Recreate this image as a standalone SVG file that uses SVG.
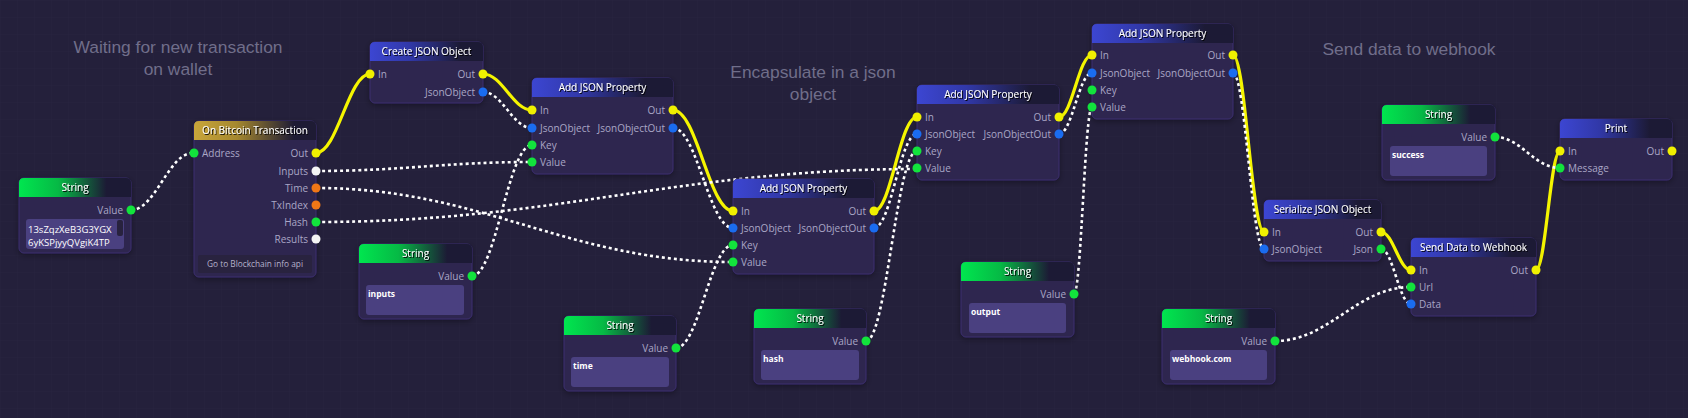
<svg xmlns="http://www.w3.org/2000/svg" width="1688" height="418" viewBox="0 0 1688 418">
<defs>
<pattern id="grid" width="17" height="17" patternUnits="userSpaceOnUse">
<path d="M17 0H0V17" fill="none" stroke="#28243f" stroke-width="1"/>
</pattern>
<linearGradient id="gGreen" x1="0" y1="0" x2="1" y2="0">
<stop offset="0" stop-color="#00e64f"/>
<stop offset="0.35" stop-color="#06b945"/>
<stop offset="0.78" stop-color="#1c1a35"/>
<stop offset="1" stop-color="#1c1a35"/>
</linearGradient>
<linearGradient id="gBlue" x1="0" y1="0" x2="1" y2="0">
<stop offset="0" stop-color="#3c46d2"/>
<stop offset="0.35" stop-color="#3138a8"/>
<stop offset="0.8" stop-color="#1c1a35"/>
<stop offset="1" stop-color="#1c1a35"/>
</linearGradient>
<linearGradient id="gGold" x1="0" y1="0" x2="1" y2="0">
<stop offset="0" stop-color="#c9a63a"/>
<stop offset="0.35" stop-color="#a5882f"/>
<stop offset="0.82" stop-color="#1e1b34"/>
<stop offset="1" stop-color="#1e1b34"/>
</linearGradient>
<filter id="nshadow" x="-20%" y="-20%" width="140%" height="150%">
<feDropShadow dx="0" dy="2" stdDeviation="3" flood-color="#000" flood-opacity="0.35"/>
</filter>
<filter id="tshadow" x="-10%" y="-30%" width="120%" height="160%">
<feDropShadow dx="1" dy="1" stdDeviation="0.4" flood-color="#000" flood-opacity="0.9"/>
</filter>
<style>
.body{fill:#2f2850;stroke:#3a2d6c;stroke-width:1}
.hg{fill:url(#gGreen)}
.hb{fill:url(#gBlue)}
.hy{fill:url(#gGold)}
.title{font-family:"Open Sans","Noto Sans",sans-serif;font-size:10px;fill:#ffffff;text-anchor:middle}
.lbl{font-family:"Open Sans","Noto Sans",sans-serif;font-size:10px;fill:#aaa6c6}
.r{text-anchor:end}
.box{fill:#4a4080}
.val{font-family:"Open Sans","Noto Sans",sans-serif;font-size:8.5px;font-weight:bold;fill:#ffffff}
.addr{font-family:"Open Sans","Noto Sans",sans-serif;font-size:9.5px;fill:#ffffff}
.cmt{font-family:"Liberation Sans",Arial,sans-serif;font-size:17.4px;fill:#706e8a;text-anchor:middle}
.btn{fill:#29233f}
.btnt{font-family:"Open Sans","Noto Sans",sans-serif;font-size:8.3px;fill:#b6b2cc;text-anchor:middle}
.py{fill:#f0f000}
.pg{fill:#12e33c}
.pb{fill:#1a6cf0}
.po{fill:#f07716}
.pw{fill:#f4f4f4}
.exec{fill:none;stroke:#f5f500;stroke-width:3.2;stroke-linecap:round}
.data{fill:none;stroke:#ffffff;stroke-width:2.6;stroke-dasharray:3 3}
</style>
</defs>
<rect width="1688" height="418" fill="#24203b"/>
<rect width="1688" height="418" fill="url(#grid)"/>

<g id="comments">
<text class="cmt" x="178" y="53">Waiting for new transaction</text>
<text class="cmt" x="178" y="75">on wallet</text>
<text class="cmt" x="813" y="78">Encapsulate in a json</text>
<text class="cmt" x="813" y="100">object</text>
<text class="cmt" x="1409" y="55">Send data to webhook</text>
</g>

<g id="connectors">
<path class="exec" d="M316,153 C337.6,153 348.4,74 370,74"/>
<path class="exec" d="M483,74 C502.6,74 512.4,110 532,110"/>
<path class="exec" d="M673,110 C697,110 709,211 733,211"/>
<path class="exec" d="M874,211 C891.2,211 899.8,117 917,117"/>
<path class="exec" d="M1059,117 C1072.2,117 1078.8,55 1092,55"/>
<path class="exec" d="M1233,55 C1245.4,55 1251.6,232 1264,232"/>
<path class="exec" d="M1381,232 C1393,232 1399,270 1411,270"/>
<path class="exec" d="M1536,270 C1545.6,270 1550.4,151 1560,151"/>
<path class="data" d="M131,210 C155.8,210 168.2,153 193,153"/>
<path class="data" d="M483,92 C502.6,92 512.4,128 532,128"/>
<path class="data" d="M316,171 C402.4,171 445.6,162 532,162"/>
<path class="data" d="M472,276 C496,276 508,145 532,145"/>
<path class="data" d="M673,128 C697,128 709,228 733,228"/>
<path class="data" d="M316,188 C482.8,188 566.2,262 733,262"/>
<path class="data" d="M676,348 C698.8,348 710.2,245 733,245"/>
<path class="data" d="M874,228 C891.2,228 899.8,134 917,134"/>
<path class="data" d="M316,222 C556.4,222 676.6,169 917,169"/>
<path class="data" d="M866,341 C886.4,341 896.6,151 917,151"/>
<path class="data" d="M1059,134 C1072.2,134 1078.8,73 1092,73"/>
<path class="data" d="M1074,294 C1081.2,294 1084.8,107 1092,107"/>
<path class="data" d="M1233,73 C1245.4,73 1251.6,249 1264,249"/>
<path class="data" d="M1381,249 C1393,249 1399,304 1411,304"/>
<path class="data" d="M1275,341 C1329.4,341 1356.6,287 1411,287"/>
<path class="data" d="M1495,137 C1521,137 1534,168 1560,168"/>
</g>

<g id="node-string-address">
<rect class="body" x="19" y="178" width="112" height="75" rx="5" filter="url(#nshadow)"/>
<path class="hg" d="M19,197V183Q19,178 24,178H126Q131,178 131,183V197Z"/>
<text class="title" x="75" y="191" filter="url(#tshadow)">String</text>
<text class="lbl r" x="123" y="213.5">Value</text>
<circle class="pg" cx="131" cy="210" r="4.5"/>
<rect class="box" x="26" y="219" width="98" height="30" rx="3"/>
<rect x="117" y="220" width="6" height="16" rx="2" fill="#28223e"/>
<text class="addr" x="28" y="232.5">13sZqzXeB3G3YGX</text>
<text class="addr" x="28" y="246">6yKSPjyyQVgiK4TP</text>
</g>

<g id="node-on-bitcoin-transaction">
<rect class="body" x="194" y="121" width="122" height="156" rx="5" filter="url(#nshadow)"/>
<path class="hy" d="M194,140V126Q194,121 199,121H311Q316,121 316,126V140Z"/>
<text class="title" x="255" y="134" filter="url(#tshadow)">On Bitcoin Transaction</text>
<text class="lbl" x="202" y="156.5">Address</text>
<circle class="pg" cx="194" cy="153" r="4.5"/>
<text class="lbl r" x="308" y="156.5">Out</text>
<text class="lbl r" x="308" y="174.5">Inputs</text>
<text class="lbl r" x="308" y="191.5">Time</text>
<text class="lbl r" x="308" y="208.5">TxIndex</text>
<text class="lbl r" x="308" y="225.5">Hash</text>
<text class="lbl r" x="308" y="242.5">Results</text>
<circle class="py" cx="316" cy="153" r="4.5"/>
<circle class="pw" cx="316" cy="171" r="4.5"/>
<circle class="po" cx="316" cy="188" r="4.5"/>
<circle class="po" cx="316" cy="205" r="4.5"/>
<circle class="pg" cx="316" cy="222" r="4.5"/>
<circle class="pw" cx="316" cy="239" r="4.5"/>
<rect class="btn" x="198" y="255" width="114" height="18" rx="2"/>
<text class="btnt" x="255" y="267">Go to Blockchain info api</text>
</g>

<g id="node-create-json-object">
<rect class="body" x="370" y="42" width="113" height="61" rx="5" filter="url(#nshadow)"/>
<path class="hb" d="M370,61V47Q370,42 375,42H478Q483,42 483,47V61Z"/>
<text class="title" x="426.5" y="55" filter="url(#tshadow)">Create JSON Object</text>
<text class="lbl" x="378" y="77.5">In</text>
<text class="lbl r" x="475" y="77.5">Out</text>
<text class="lbl r" x="475" y="95.5">JsonObject</text>
<circle class="py" cx="370" cy="74" r="4.5"/>
<circle class="py" cx="483" cy="74" r="4.5"/>
<circle class="pb" cx="483" cy="92" r="4.5"/>
</g>

<g id="node-add-json-property-1">
<rect class="body" x="532" y="78" width="141" height="96" rx="5" filter="url(#nshadow)"/>
<path class="hb" d="M532,97V83Q532,78 537,78H668Q673,78 673,83V97Z"/>
<text class="title" x="602.5" y="91" filter="url(#tshadow)">Add JSON Property</text>
<text class="lbl" x="540" y="113.5">In</text>
<text class="lbl" x="540" y="131.5">JsonObject</text>
<text class="lbl" x="540" y="148.5">Key</text>
<text class="lbl" x="540" y="165.5">Value</text>
<text class="lbl r" x="665" y="113.5">Out</text>
<text class="lbl r" x="665" y="131.5">JsonObjectOut</text>
<circle class="py" cx="532" cy="110" r="4.5"/>
<circle class="pb" cx="532" cy="128" r="4.5"/>
<circle class="pg" cx="532" cy="145" r="4.5"/>
<circle class="pg" cx="532" cy="162" r="4.5"/>
<circle class="py" cx="673" cy="110" r="4.5"/>
<circle class="pb" cx="673" cy="128" r="4.5"/>
</g>

<g id="node-add-json-property-2">
<rect class="body" x="733" y="179" width="141" height="95" rx="5" filter="url(#nshadow)"/>
<path class="hb" d="M733,198V184Q733,179 738,179H869Q874,179 874,184V198Z"/>
<text class="title" x="803.5" y="192" filter="url(#tshadow)">Add JSON Property</text>
<text class="lbl" x="741" y="214.5">In</text>
<text class="lbl" x="741" y="231.5">JsonObject</text>
<text class="lbl" x="741" y="248.5">Key</text>
<text class="lbl" x="741" y="265.5">Value</text>
<text class="lbl r" x="866" y="214.5">Out</text>
<text class="lbl r" x="866" y="231.5">JsonObjectOut</text>
<circle class="py" cx="733" cy="211" r="4.5"/>
<circle class="pb" cx="733" cy="228" r="4.5"/>
<circle class="pg" cx="733" cy="245" r="4.5"/>
<circle class="pg" cx="733" cy="262" r="4.5"/>
<circle class="py" cx="874" cy="211" r="4.5"/>
<circle class="pb" cx="874" cy="228" r="4.5"/>
</g>

<g id="node-add-json-property-3">
<rect class="body" x="917" y="85" width="142" height="95" rx="5" filter="url(#nshadow)"/>
<path class="hb" d="M917,104V90Q917,85 922,85H1054Q1059,85 1059,90V104Z"/>
<text class="title" x="988" y="98" filter="url(#tshadow)">Add JSON Property</text>
<text class="lbl" x="925" y="120.5">In</text>
<text class="lbl" x="925" y="137.5">JsonObject</text>
<text class="lbl" x="925" y="154.5">Key</text>
<text class="lbl" x="925" y="171.5">Value</text>
<text class="lbl r" x="1051" y="120.5">Out</text>
<text class="lbl r" x="1051" y="137.5">JsonObjectOut</text>
<circle class="py" cx="917" cy="117" r="4.5"/>
<circle class="pb" cx="917" cy="134" r="4.5"/>
<circle class="pg" cx="917" cy="151" r="4.5"/>
<circle class="pg" cx="917" cy="168" r="4.5"/>
<circle class="py" cx="1059" cy="117" r="4.5"/>
<circle class="pb" cx="1059" cy="134" r="4.5"/>
</g>

<g id="node-add-json-property-4">
<rect class="body" x="1092" y="24" width="141" height="95" rx="5" filter="url(#nshadow)"/>
<path class="hb" d="M1092,43V29Q1092,24 1097,24H1228Q1233,24 1233,29V43Z"/>
<text class="title" x="1162.5" y="37" filter="url(#tshadow)">Add JSON Property</text>
<text class="lbl" x="1100" y="58.5">In</text>
<text class="lbl" x="1100" y="76.5">JsonObject</text>
<text class="lbl" x="1100" y="93.5">Key</text>
<text class="lbl" x="1100" y="110.5">Value</text>
<text class="lbl r" x="1225" y="58.5">Out</text>
<text class="lbl r" x="1225" y="76.5">JsonObjectOut</text>
<circle class="py" cx="1092" cy="55" r="4.5"/>
<circle class="pb" cx="1092" cy="73" r="4.5"/>
<circle class="pg" cx="1092" cy="90" r="4.5"/>
<circle class="pg" cx="1092" cy="107" r="4.5"/>
<circle class="py" cx="1233" cy="55" r="4.5"/>
<circle class="pb" cx="1233" cy="73" r="4.5"/>
</g>

<g id="node-serialize-json-object">
<rect class="body" x="1264" y="200" width="117" height="61" rx="5" filter="url(#nshadow)"/>
<path class="hb" d="M1264,219V205Q1264,200 1269,200H1376Q1381,200 1381,205V219Z"/>
<text class="title" x="1322.5" y="213" filter="url(#tshadow)">Serialize JSON Object</text>
<text class="lbl" x="1272" y="235.5">In</text>
<text class="lbl" x="1272" y="252.5">JsonObject</text>
<text class="lbl r" x="1373" y="235.5">Out</text>
<text class="lbl r" x="1373" y="252.5">Json</text>
<circle class="py" cx="1264" cy="232" r="4.5"/>
<circle class="pb" cx="1264" cy="249" r="4.5"/>
<circle class="py" cx="1381" cy="232" r="4.5"/>
<circle class="pg" cx="1381" cy="249" r="4.5"/>
</g>

<g id="node-string-success">
<rect class="body" x="1382" y="105" width="113" height="75" rx="5" filter="url(#nshadow)"/>
<path class="hg" d="M1382,124V110Q1382,105 1387,105H1490Q1495,105 1495,110V124Z"/>
<text class="title" x="1438.5" y="118" filter="url(#tshadow)">String</text>
<text class="lbl r" x="1487" y="140.5">Value</text>
<circle class="pg" cx="1495" cy="137" r="4.5"/>
<rect class="box" x="1390" y="146" width="97" height="30" rx="3"/>
<text class="val" x="1392" y="158">success</text>
</g>

<g id="node-print">
<rect class="body" x="1560" y="119" width="112" height="61" rx="5" filter="url(#nshadow)"/>
<path class="hb" d="M1560,138V124Q1560,119 1565,119H1667Q1672,119 1672,124V138Z"/>
<text class="title" x="1616" y="132" filter="url(#tshadow)">Print</text>
<text class="lbl" x="1568" y="154.5">In</text>
<text class="lbl" x="1568" y="171.5">Message</text>
<text class="lbl r" x="1664" y="154.5">Out</text>
<circle class="py" cx="1560" cy="151" r="4.5"/>
<circle class="pg" cx="1560" cy="168" r="4.5"/>
<circle class="py" cx="1672" cy="151" r="4.5"/>
</g>

<g id="node-send-data-to-webhook">
<rect class="body" x="1411" y="238" width="125" height="78" rx="5" filter="url(#nshadow)"/>
<path class="hb" d="M1411,257V243Q1411,238 1416,238H1531Q1536,238 1536,243V257Z"/>
<text class="title" x="1473.5" y="251" filter="url(#tshadow)">Send Data to Webhook</text>
<text class="lbl" x="1419" y="273.5">In</text>
<text class="lbl" x="1419" y="290.5">Url</text>
<text class="lbl" x="1419" y="307.5">Data</text>
<text class="lbl r" x="1528" y="273.5">Out</text>
<circle class="py" cx="1411" cy="270" r="4.5"/>
<circle class="pg" cx="1411" cy="287" r="4.5"/>
<circle class="pb" cx="1411" cy="304" r="4.5"/>
<circle class="py" cx="1536" cy="270" r="4.5"/>
</g>

<g id="node-string-inputs">
<rect class="body" x="359" y="244" width="113" height="75" rx="5" filter="url(#nshadow)"/>
<path class="hg" d="M359,263V249Q359,244 364,244H467Q472,244 472,249V263Z"/>
<text class="title" x="415.5" y="257" filter="url(#tshadow)">String</text>
<text class="lbl r" x="464" y="279.5">Value</text>
<circle class="pg" cx="472" cy="276" r="4.5"/>
<rect class="box" x="366" y="285" width="98" height="30" rx="3"/>
<text class="val" x="368" y="297">inputs</text>
</g>

<g id="node-string-time">
<rect class="body" x="564" y="316" width="112" height="75" rx="5" filter="url(#nshadow)"/>
<path class="hg" d="M564,335V321Q564,316 569,316H671Q676,316 676,321V335Z"/>
<text class="title" x="620" y="329" filter="url(#tshadow)">String</text>
<text class="lbl r" x="668" y="351.5">Value</text>
<circle class="pg" cx="676" cy="348" r="4.5"/>
<rect class="box" x="571" y="357" width="98" height="30" rx="3"/>
<text class="val" x="573" y="369">time</text>
</g>

<g id="node-string-hash">
<rect class="body" x="754" y="309" width="112" height="75" rx="5" filter="url(#nshadow)"/>
<path class="hg" d="M754,328V314Q754,309 759,309H861Q866,309 866,314V328Z"/>
<text class="title" x="810" y="322" filter="url(#tshadow)">String</text>
<text class="lbl r" x="858" y="344.5">Value</text>
<circle class="pg" cx="866" cy="341" r="4.5"/>
<rect class="box" x="761" y="350" width="98" height="30" rx="3"/>
<text class="val" x="763" y="362">hash</text>
</g>

<g id="node-string-output">
<rect class="body" x="961" y="262" width="113" height="75" rx="5" filter="url(#nshadow)"/>
<path class="hg" d="M961,281V267Q961,262 966,262H1069Q1074,262 1074,267V281Z"/>
<text class="title" x="1017.5" y="275" filter="url(#tshadow)">String</text>
<text class="lbl r" x="1066" y="297.5">Value</text>
<circle class="pg" cx="1074" cy="294" r="4.5"/>
<rect class="box" x="969" y="303" width="97" height="30" rx="3"/>
<text class="val" x="971" y="315">output</text>
</g>

<g id="node-string-webhook">
<rect class="body" x="1162" y="309" width="113" height="75" rx="5" filter="url(#nshadow)"/>
<path class="hg" d="M1162,328V314Q1162,309 1167,309H1270Q1275,309 1275,314V328Z"/>
<text class="title" x="1218.5" y="322" filter="url(#tshadow)">String</text>
<text class="lbl r" x="1267" y="344.5">Value</text>
<circle class="pg" cx="1275" cy="341" r="4.5"/>
<rect class="box" x="1170" y="350" width="97" height="30" rx="3"/>
<text class="val" x="1172" y="362">webhook.com</text>
</g>
</svg>
